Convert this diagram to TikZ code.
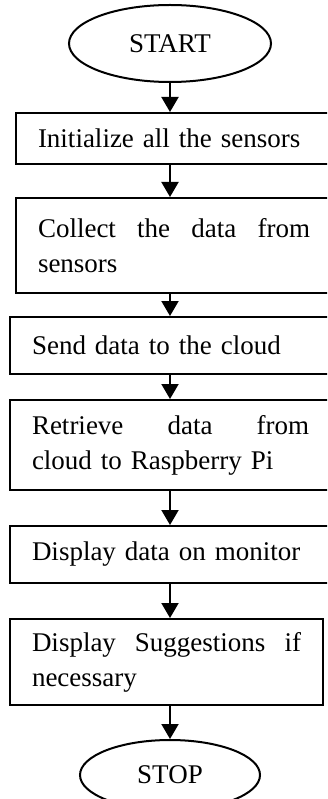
\documentclass[tikz,border=0pt]{standalone}
\usepackage{fontspec}
\setmainfont{Liberation Serif}
\usetikzlibrary{shapes.geometric,arrows.meta}

\begin{document}
\begin{tikzpicture}[x=1pt,y=-1pt,
  terminal/.style={draw, line width=2pt, ellipse, font=\fontsize{27}{35}\selectfont},
  flowbox/.style={draw, line width=2pt, anchor=north west, inner xsep=22pt, inner ysep=0pt, align=left, font=\fontsize{27}{35}\selectfont},
  flowarrow/.style={line width=2pt, -{Triangle[length=15pt,width=17pt]}}]
\useasboundingbox (0,0) rectangle (327,799);
\clip (0,0) rectangle (327,799);

\node[terminal, minimum width=202pt, minimum height=77pt] (start) at (170,43.5) {START};

\node[flowbox, text width=281pt, minimum height=51pt] (init) at (15,112) {Initialize all the sensors};
\node[flowbox, text width=281pt, minimum height=95pt] (collect) at (15,197) {\makebox[272pt]{Collect\hfill the\hfill data\hfill from}\\sensors};
\node[flowbox, text width=287pt, minimum height=57pt] (send) at (9,316) {Send data to the cloud};
\node[flowbox, text width=287pt, minimum height=90pt] (retrieve) at (9,399) {\makebox[277pt]{Retrieve\hfill data\hfill from}\\cloud to Raspberry Pi};
\node[flowbox, text width=287pt, minimum height=57pt] (display) at (9,525) {Display data on monitor};
\node[flowbox, text width=269pt, minimum height=86pt] (suggest) at (9,618) {\makebox[269pt]{Display\hfill Suggestions\hfill if}\\necessary};

\node[terminal, minimum width=180pt, minimum height=70pt] (stop) at (170,775) {STOP};

\draw[flowarrow] (start) -- (start |- init.north);
\draw[flowarrow] (init.south -| start) -- (start |- collect.north);
\draw[flowarrow] (collect.south -| start) -- (start |- send.north);
\draw[flowarrow] (send.south -| start) -- (start |- retrieve.north);
\draw[flowarrow] (retrieve.south -| start) -- (start |- display.north);
\draw[flowarrow] (display.south -| start) -- (start |- suggest.north);
\draw[flowarrow] (suggest.south -| stop) -- (stop);
\end{tikzpicture}
\end{document}
